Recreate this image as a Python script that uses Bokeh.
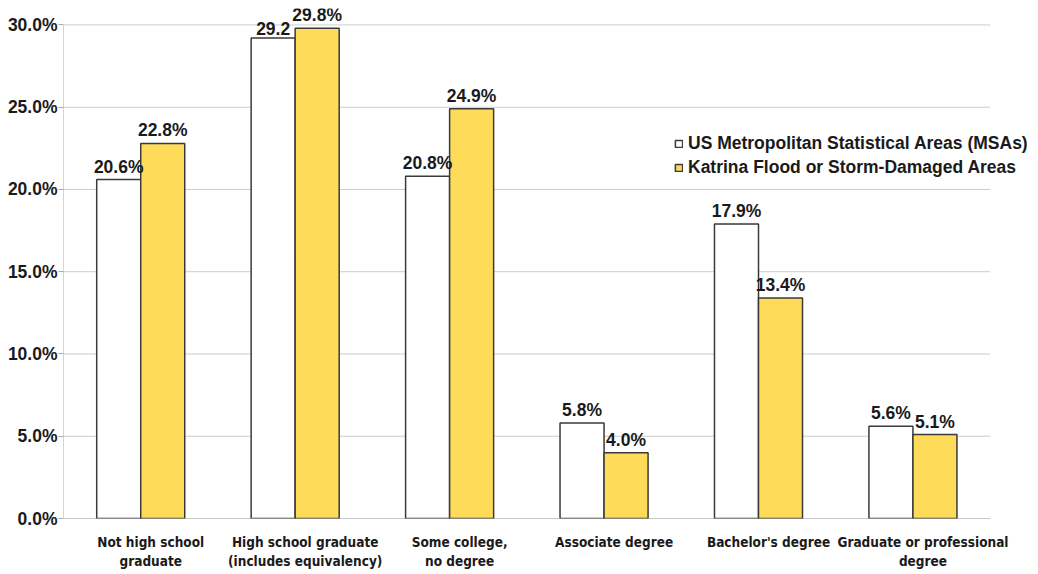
from bokeh.plotting import figure
from bokeh.models import ColumnDataSource, Range1d, LabelSet, Legend, LegendItem, PrintfTickFormatter, FixedTicker
from bokeh.core.properties import value
from bokeh.transform import dodge
from bokeh.embed import file_html
from bokeh.resources import INLINE

categories = ["Not high school\ngraduate", "High school graduate\n(includes equivalency)",
              "Some college,\nno degree", "Associate degree", "Bachelor's degree",
              "Graduate or professional\ndegree"]
msa = [20.6, 29.2, 20.8, 5.8, 17.9, 5.6]
katrina = [22.8, 29.8, 24.9, 4.0, 13.4, 5.1]
msa_labels = ["20.6%", "29.2", "20.8%", "5.8%", "17.9%", "5.6%"]
katrina_labels = ["22.8%", "29.8%", "24.9%", "4.0%", "13.4%", "5.1%"]
series_names = ["US Metropolitan Statistical Areas (MSAs)", "Katrina Flood or Storm-Damaged Areas"]
y_ticks = [0, 5, 10, 15, 20, 25, 30]

n = len(categories)
y_max = y_ticks[-1]
centers = [i + 0.5 for i in range(n)]

src = ColumnDataSource(dict(x=centers, msa=msa, katrina=katrina,
                            msa_lab=msa_labels, kat_lab=katrina_labels))

p = figure(width=1038, height=574, x_range=Range1d(0, n + 0.3), y_range=Range1d(0, 31),
           output_backend="svg", toolbar_location=None,
           min_border_left=63, min_border_right=2, min_border_top=8, min_border_bottom=56)
p.outline_line_color = None
p.background_fill_color = "white"
p.xgrid.grid_line_color = None
p.ygrid.grid_line_color = None

# horizontal gridlines spanning only the category area
p.segment(x0=[0] * len(y_ticks), y0=y_ticks, x1=[n] * len(y_ticks), y1=y_ticks,
          line_color="#cccccc", line_width=1)
# bottom axis line and left axis line
p.segment(x0=[0], y0=[0], x1=[n], y1=[0], line_color="#aaaaaa", line_width=1)
p.segment(x0=[0], y0=[0], x1=[0], y1=[y_max], line_color="#aaaaaa", line_width=1)

w = 0.285
r1 = p.vbar(x=dodge("x", -w / 2), top="msa", width=w, source=src,
            fill_color="white", line_color="#3a3a3a", line_width=1.5)
r2 = p.vbar(x=dodge("x", w / 2), top="katrina", width=w, source=src,
            fill_color="#FEDB59", line_color="#3a3a3a", line_width=1.5)

lab_font = "Liberation Sans"
narrow_font = "'Liberation Sans Narrow', 'DejaVu Sans Condensed', sans-serif"
for col, lab, off in (("msa", "msa_lab", -w / 2), ("katrina", "kat_lab", w / 2)):
    p.add_layout(LabelSet(x=dodge("x", off), y=col, text=lab, source=src,
                          text_align="center", text_baseline="bottom", y_offset=3,
                          text_font=value(lab_font), text_font_style="bold",
                          text_font_size="17.5px", text_color="#1a1a1a"))

p.yaxis.ticker = FixedTicker(ticks=y_ticks)
p.yaxis.formatter = PrintfTickFormatter(format="%.1f%%")
p.yaxis.axis_line_color = None
p.yaxis.major_tick_line_color = "#aaaaaa"
p.yaxis.major_tick_out = 5
p.yaxis.major_tick_in = 0
p.yaxis.minor_tick_line_color = None
p.yaxis.major_label_text_font = lab_font
p.yaxis.major_label_text_font_style = "bold"
p.yaxis.major_label_text_font_size = "17.5px"
p.yaxis.major_label_text_color = "#1a1a1a"
p.yaxis.major_label_standoff = 1

label_shift = 0.065
tick_pos = [c + label_shift for c in centers]
p.xaxis.ticker = FixedTicker(ticks=tick_pos)
p.xaxis.major_label_overrides = {t: c for t, c in zip(tick_pos, categories)}
p.xaxis.axis_line_color = None
p.xaxis.major_tick_line_color = None
p.xaxis.minor_tick_line_color = None
p.xaxis.major_label_text_font = narrow_font
p.xaxis.major_label_text_font_style = "bold"
p.xaxis.major_label_text_font_size = "13.5px"
p.xaxis.major_label_text_color = "#1a1a1a"
p.xaxis.major_label_standoff = 9

legend = Legend(items=[LegendItem(label=series_names[0], renderers=[r1]),
                       LegendItem(label=series_names[1], renderers=[r2])],
                location=(611, 340), background_fill_alpha=0, border_line_color=None,
                padding=0, margin=0, spacing=3, glyph_width=9, glyph_height=9,
                label_text_font=lab_font, label_text_font_style="bold",
                label_text_font_size="17.5px", label_text_color="#1a1a1a",
                label_standoff=5, label_height=20)
p.add_layout(legend)

open("out.html", "w").write(file_html(p, INLINE))
